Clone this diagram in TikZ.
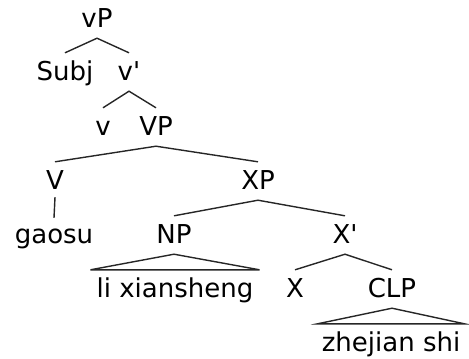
\documentclass[tikz,border=0pt]{standalone}
\usepackage{fontspec}
\setmainfont{DejaVu Sans}
\begin{document}
\begin{tikzpicture}[x=1bp,y=-1bp,
  tn/.style={font=\fontsize{26bp}{30bp}\selectfont, anchor=base, text height=22bp, text depth=6bp, inner ysep=5bp, inner xsep=6bp},
  br/.style={line width=1.4bp, draw=black!85}]
\useasboundingbox (0,0) rectangle (469,358);
% row baselines: 27, 80, 135, 189, 243, 297, 351
\node[tn] (vP) at (97,27) {vP};
\node[tn] (Subj) at (65,80) {Subj};
\node[tn] (vbar) at (129,80) {v\textquotesingle};
\node[tn] (v) at (103,135) {v};
\node[tn] (VP) at (156,135) {VP};
\node[tn] (V) at (55,189) {V};
\node[tn] (XP) at (258,189) {XP};
\node[tn, inner ysep=3bp] (gaosu) at (54,243) {gaosu};
\node[tn] (NP) at (174,243) {NP};
\node[tn] (Xbar) at (345,243) {X\textquotesingle};
\node[tn] (li) at (175,297) {li xiansheng};
\node[tn] (X) at (295,297) {X};
\node[tn] (CLP) at (392,297) {CLP};
\node[tn, inner xsep=4bp] (zs) at (391,351) {zhejian shi};

\draw[br] (Subj.north) -- (vP.south) -- (vbar.north);
\draw[br] (v.north) -- (vbar.south) -- (VP.north);
\draw[br] (V.north) -- (VP.south) -- (XP.north);
\draw[br] ([yshift=3bp]V.south) -- (gaosu.north);
\draw[br] (NP.north) -- (XP.south) -- (Xbar.north);
\draw[br] (X.north) -- (Xbar.south) -- (CLP.north);
\draw[br] (NP.south) -- (li.north west) -- (li.north east) -- cycle;
\draw[br] (CLP.south) -- (zs.north west) -- (zs.north east) -- cycle;
\end{tikzpicture}
\end{document}
